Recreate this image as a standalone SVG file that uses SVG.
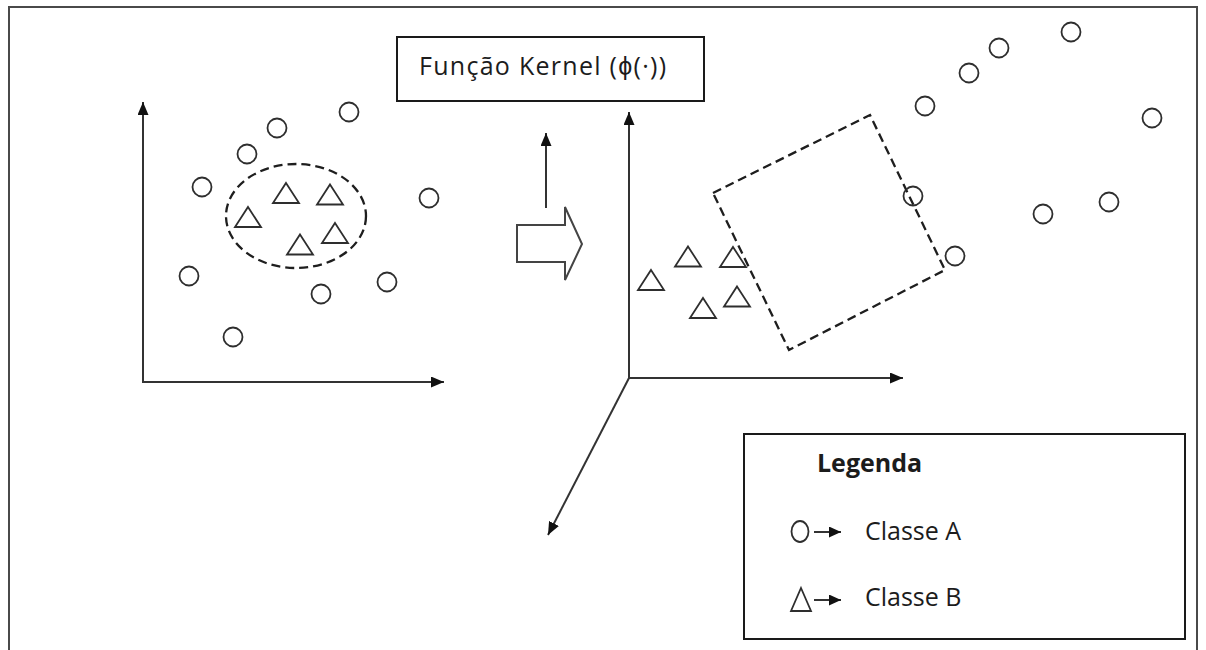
<svg xmlns="http://www.w3.org/2000/svg" xmlns:xlink="http://www.w3.org/1999/xlink" width="1206" height="650" viewBox="0 0 1206 650">
  <style>
    .frame { fill: none; stroke: #4a4a4a; stroke-width: 2; }
    .box { fill: #ffffff; stroke: #1a1a1a; stroke-width: 2; }
    .pt { fill: none; stroke: #2e2e2e; stroke-width: 1.8; }
    .axis { fill: none; stroke: #333333; stroke-width: 2; }
    .dash { fill: none; stroke: #1e1e1e; stroke-width: 2.3; stroke-dasharray: 9 5; }
    .label { font-family: "Open Sans", "Liberation Sans", sans-serif; fill: #1c1c1c; }
  </style>
  <defs>
    <marker id="head" markerUnits="userSpaceOnUse" markerWidth="13" markerHeight="11" refX="13" refY="5.5" orient="auto">
      <path d="M0,0 L13,5.5 L0,11 Z" fill="#111111"/>
    </marker>
    <marker id="head-sm" markerUnits="userSpaceOnUse" markerWidth="12" markerHeight="11" refX="12" refY="5.5" orient="auto">
      <path d="M0,0 L12,5.5 L0,11 Z" fill="#111111"/>
    </marker>
    <circle id="dot" r="9.5" class="pt"/>
    <path id="tri" d="M0,-10 L13,10 L-13,10 Z" class="pt"/>
  </defs>

  <!-- outer border (open at the bottom) -->
  <rect id="frame" class="frame" x="9" y="7" width="1188" height="700"/>

  <!-- input space: class A circles around a dashed cluster of class B -->
  <g id="input-space">
    <ellipse class="dash" cx="296" cy="216" rx="70" ry="52"/>
    <use xlink:href="#dot" x="349" y="112"/>
    <use xlink:href="#dot" x="277" y="128"/>
    <use xlink:href="#dot" x="247" y="154"/>
    <use xlink:href="#dot" x="202" y="187"/>
    <use xlink:href="#dot" x="429" y="198"/>
    <use xlink:href="#dot" x="189" y="276"/>
    <use xlink:href="#dot" x="321" y="294"/>
    <use xlink:href="#dot" x="387" y="282"/>
    <use xlink:href="#dot" x="233" y="337"/>
    <use xlink:href="#tri" x="286" y="193"/>
    <use xlink:href="#tri" x="330" y="194.5"/>
    <use xlink:href="#tri" x="248" y="217"/>
    <use xlink:href="#tri" x="335" y="233"/>
    <use xlink:href="#tri" x="300" y="244.5"/>
  </g>

  <!-- feature space: classes separated by a dashed boundary -->
  <g id="feature-space">
    <polygon class="dash" points="713,193 870,115 945,270 789,350"/>
    <use xlink:href="#dot" x="1071" y="32"/>
    <use xlink:href="#dot" x="999" y="48"/>
    <use xlink:href="#dot" x="969" y="73"/>
    <use xlink:href="#dot" x="925" y="106"/>
    <use xlink:href="#dot" x="1152" y="118"/>
    <use xlink:href="#dot" x="913" y="196"/>
    <use xlink:href="#dot" x="1043" y="214"/>
    <use xlink:href="#dot" x="1109" y="202"/>
    <use xlink:href="#dot" x="955" y="256"/>
    <use xlink:href="#tri" x="688" y="256.5"/>
    <use xlink:href="#tri" x="733" y="257"/>
    <use xlink:href="#tri" x="651" y="280"/>
    <use xlink:href="#tri" x="737" y="296.5"/>
    <use xlink:href="#tri" x="703" y="308"/>
  </g>

  <!-- kernel function label -->
  <g id="kernel-label">
    <rect class="box" x="397" y="37" width="307" height="64"/>
    <text class="label" x="419" y="75" font-size="25" textLength="247">Função Kernel (ϕ(·))</text>
  </g>

  <!-- block arrow for the mapping -->
  <g id="mapping-arrow">
    <path d="M517,225 L565,225 L565,207 L582,244 L565,280 L565,262 L517,262 Z" fill="#ffffff" stroke="#444444" stroke-width="2" stroke-linejoin="miter"/>
  </g>

  <!-- axes and pointer arrows -->
  <g id="connectors">
    <line class="axis" x1="143" y1="382" x2="143" y2="102" marker-end="url(#head)"/>
    <line class="axis" x1="142" y1="382" x2="444" y2="382" marker-end="url(#head)"/>
    <line class="axis" x1="629" y1="379" x2="629" y2="112" marker-end="url(#head)"/>
    <line class="axis" x1="628" y1="378" x2="903" y2="378" marker-end="url(#head)"/>
    <line class="axis" x1="629" y1="378" x2="548" y2="535" marker-end="url(#head)"/>
    <line class="axis" x1="546" y1="208" x2="546" y2="133" marker-end="url(#head)"/>
  </g>

  <!-- legend -->
  <g id="legend">
    <rect class="box" x="744" y="434" width="441" height="205"/>
    <text class="label" x="817" y="472" font-size="25" font-weight="bold">Legenda</text>
    <ellipse cx="800" cy="531.5" rx="8.5" ry="10.5" class="pt"/>
    <line class="axis" x1="814" y1="532" x2="841" y2="532" marker-end="url(#head-sm)"/>
    <text class="label" x="865" y="540" font-size="25">Classe A</text>
    <path d="M801,588 L811,611 L791,611 Z" class="pt"/>
    <line class="axis" x1="814" y1="600" x2="841" y2="600" marker-end="url(#head-sm)"/>
    <text class="label" x="865" y="606" font-size="25">Classe B</text>
  </g>
</svg>
